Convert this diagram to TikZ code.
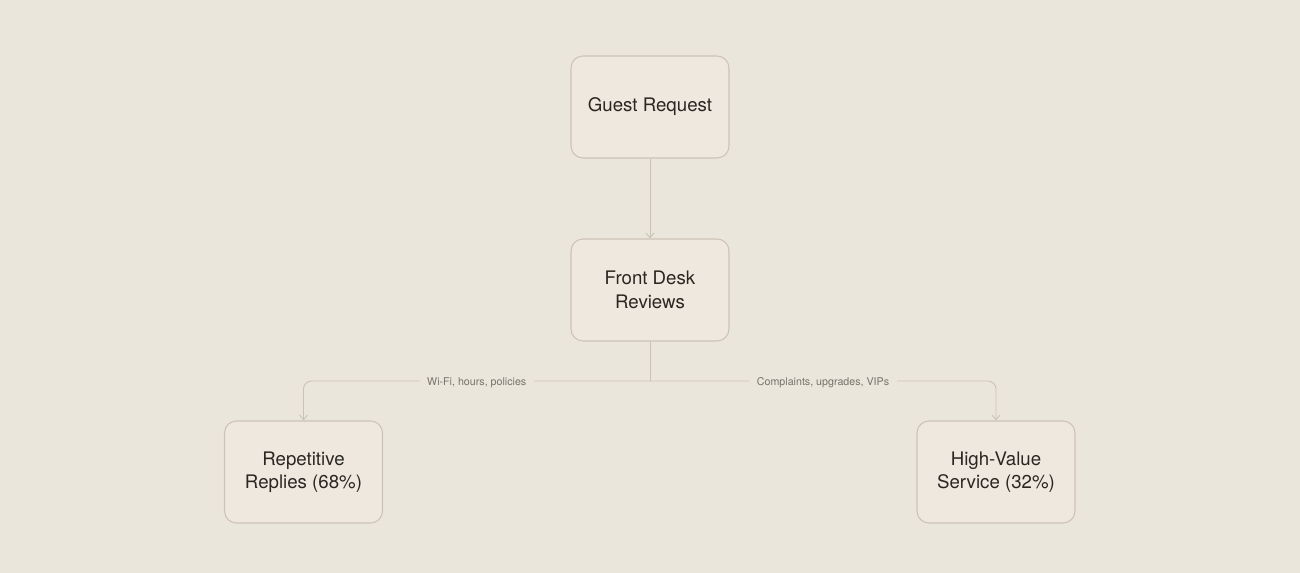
\documentclass[tikz,border=0pt]{standalone}
\usepackage{fontspec}
\setmainfont{TeX Gyre Heros}
\usetikzlibrary{arrows.meta, positioning}
\definecolor{paper}{HTML}{EBE6DC}
\definecolor{boxfill}{HTML}{EEE8DE}
\definecolor{boxline}{HTML}{CCC3B5}
\definecolor{wire}{HTML}{CBC3B6}
\definecolor{ink}{HTML}{2A2622}
\definecolor{note}{HTML}{77726A}
\tikzset{
  stage/.style={draw=boxline, fill=boxfill, rounded corners=9pt, line width=0.8pt,
    minimum width=118.5pt, minimum height=76.5pt, align=center,
    text=ink, font=\fontsize{14}{17.5}\selectfont},
  wire/.style={draw=wire, line width=0.7pt},
  tip/.style={rounded corners=6pt, -{Straight Barb[length=3.5pt, width=6pt]}},
  tag/.style={fill=paper, text=note, inner xsep=6pt, inner ysep=2pt,
    yshift=-1pt, font=\fontsize{8}{10}\selectfont}
}
\begin{document}
\begin{tikzpicture}[x=0.75pt, y=-0.75pt]
  \fill [paper] (0,0) rectangle (1300,573);
  \useasboundingbox (0,0) rectangle (1300,573);
\node[stage] (guest) at (650,107) {\raisebox{-1.5pt}{Guest Request}};
\node[stage] (desk) at (650,290) {Front Desk\\ Reviews};
\node[stage] (rep) at (303.5,472) {Repetitive\\ Replies (68\%)};
\node[stage] (high) at (996,472) {High-Value\\ Service (32\%)};
\coordinate (split) at (650,381);
\draw[wire, tip, rounded corners=0pt] (guest) -- (desk);
\draw[wire] (desk.south) -- (split);
\draw[wire, tip] (split) -| (rep.north)%
  node[tag, pos=0.25] {Wi-Fi, hours, policies};
\draw[wire, tip] (split) -| (high.north)%
  node[tag, pos=0.25] {Complaints, upgrades, VIPs};
    \end{tikzpicture}
\end{document}
